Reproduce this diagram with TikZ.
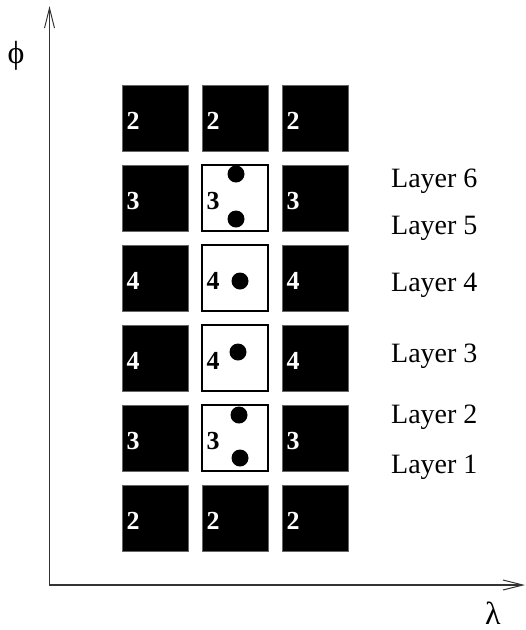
\documentclass[tikz,border=0pt]{standalone}
\usepackage{fontspec}
\setmainfont{Liberation Serif}
\usetikzlibrary{arrows.meta}
\begin{document}
\begin{tikzpicture}[x=1pt,y=-1pt,
  axis/.style={line width=1.1pt, draw=black!80, -{Straight Barb[length=20pt,width=10pt,line width=1pt]}},
  cell/.style={minimum width=66pt, minimum height=66pt, inner sep=0pt, outer sep=0pt},
  dark/.style={cell, fill=black, draw=black!60, line width=0.6pt},
  light/.style={cell, fill=white, draw=black, line width=1.6pt},
  num/.style={font=\fontsize{26}{26}\selectfont\bfseries, anchor=base west, inner sep=0pt},
  dot/.style={circle, fill=black, minimum size=17pt, inner sep=0pt},
  layer/.style={font=\fontsize{28}{28}\selectfont, anchor=base west, inner sep=0pt},
  axlabel/.style={font=\fontsize{32}{32}\selectfont, inner sep=0pt}]
\useasboundingbox (0,0) rectangle (526,630);

% axes
\coordinate (O) at (49.5,585);
\coordinate (ytip) at (49.5,6);
\coordinate (xtip) at (525,585);
\draw[axis] (O) -- (ytip);
\draw[axis] ([xshift=-0.5pt]O) -- (xtip);
\node[axlabel] (phi) at (16,56) {ϕ};
\node[axlabel, anchor=base] (lambda) at (493,624) {λ};

% grid of cells: rows from top, columns left to right
\foreach \r/\n in {1/2,2/3,3/4,4/4,5/3,6/2} {
  \foreach \c in {1,2,3} {
    \pgfmathsetmacro{\cx}{155+80*(\c-1)}
    \pgfmathsetmacro{\cy}{118+80*(\r-1)}
    \ifnum\c=2
      \ifnum\r>1 \ifnum\r<6
        \node[light] (b\r\c) at (\cx,\cy) {};
        \node[num, text=black] (n\r\c) at ([xshift=4.5pt,yshift=-11pt]b\r\c.west) {\n};
      \else
        \node[dark] (b\r\c) at (\cx,\cy) {};
        \node[num, text=white] (n\r\c) at ([xshift=4.5pt,yshift=-11pt]b\r\c.west) {\n};
      \fi \else
        \node[dark] (b\r\c) at (\cx,\cy) {};
        \node[num, text=white] (n\r\c) at ([xshift=4.5pt,yshift=-11pt]b\r\c.west) {\n};
      \fi
    \else
      \node[dark] (b\r\c) at (\cx,\cy) {};
      \node[num, text=white] (n\r\c) at ([xshift=4.5pt,yshift=-11pt]b\r\c.west) {\n};
    \fi
  }
}

% particles inside the open cells
\node[dot] (p6) at (236,174) {};
\node[dot] (p5) at (236,219) {};
\node[dot] (p4) at (240,281) {};
\node[dot] (p3) at (238,352) {};
\node[dot] (p2) at (239,415) {};
\node[dot] (p1) at (240,458) {};

% layer labels
\node[layer] (l6) at (391,187) {Layer 6};
\node[layer] (l5) at (391,234) {Layer 5};
\node[layer] (l4) at (391,291) {Layer 4};
\node[layer] (l3) at (391,362) {Layer 3};
\node[layer] (l2) at (391,423) {Layer 2};
\node[layer] (l1) at (391,473) {Layer 1};
\end{tikzpicture}
\end{document}
